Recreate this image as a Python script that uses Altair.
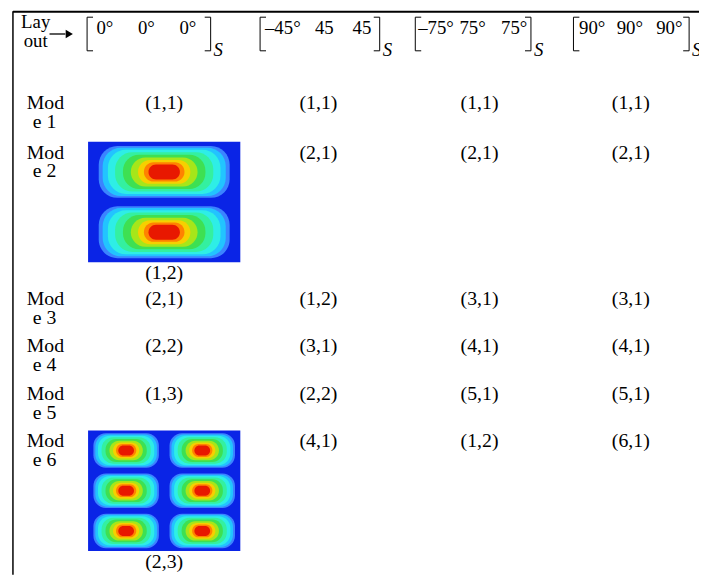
import altair as alt
import pandas as pd

# ---------------- data ----------------
header_label = ["Lay", "out"]
layout_terms = [["0°", "0°", "0°"],
                ["\u201345°", "45", "45"],
                ["\u201375°", "75°", "75°"],
                ["90°", "90°", "90°"]]
layout_sub = "S"
mode_names = ["Mode 1", "Mode 2", "Mode 3", "Mode 4", "Mode 5", "Mode 6"]
modes_0 = ["(1,1)", "(1,2)", "(2,1)", "(2,2)", "(1,3)", "(2,3)"]
modes_45 = ["(1,1)", "(2,1)", "(1,2)", "(3,1)", "(2,2)", "(4,1)"]
modes_75 = ["(1,1)", "(2,1)", "(3,1)", "(4,1)", "(5,1)", "(1,2)"]
modes_90 = ["(1,1)", "(2,1)", "(3,1)", "(4,1)", "(5,1)", "(6,1)"]
mode_cols = [modes_0, modes_45, modes_75, modes_90]
shape_cells = [(0, 1), (0, 5)]  # (layout column, mode row) shown as mode-shape pictures

# ---------------- layout / style (page pixels) ----------------
col_x = [166, 322, 485, 638]
row_base = [107, 157, 305, 353, 401, 449]
label_x, label2_x, line2_dy = 27, 33, 19
hdr_x, hdr_base = 36, [25, 44]
br_left = [88, 263, 420, 580]
br_right = [213, 384, 537, 697]
br_top, br_bot, serif = 14, 48, 6
term_x = [[106, 148, 190], [286, 328, 366], [441, 478, 520], [599, 637, 677]]
term_base = 31
sub_base = 53
img_w, img_h, img_dy, cap_dy = 154, 122, 17, 17
lobe_fx, lobe_fy = 0.86, 0.86
band_fx = [1.00, 0.94, 0.86, 0.75, 0.63, 0.51, 0.40, 0.31, 0.24]
band_fy = [1.00, 0.93, 0.85, 0.76, 0.66, 0.56, 0.46, 0.37, 0.29]
band_round = [0.72, 0.76, 0.82, 0.88, 0.94, 1.0, 1.0, 1.0, 1.0]
band_colors = ["#3b84ff", "#22c4ff", "#2eeee6", "#34f0a0", "#3ee052",
               "#a6e61a", "#f6d000", "#ff8200", "#e81800"]
bg_blue = "#0a24e6"
FONT = "Liberation Serif"

# ---------------- build tables ----------------
texts_c = []
for c, col in enumerate(mode_cols):
    for r, lab in enumerate(col):
        if (c, r) in shape_cells:
            top = row_base[r] - img_dy
            texts_c.append(dict(x=col_x[c], y=top + img_h + cap_dy, t=lab, s=20))
        else:
            texts_c.append(dict(x=col_x[c], y=row_base[r], t=lab, s=20))
for g, terms in enumerate(layout_terms):
    for k, t in enumerate(terms):
        texts_c.append(dict(x=term_x[g][k], y=term_base, t=t, s=19))
for k, t in enumerate(header_label):
    texts_c.append(dict(x=hdr_x, y=hdr_base[k], t=t, s=19))
df_tc = pd.DataFrame(texts_c)

texts_l = []
for r, name in enumerate(mode_names):
    texts_l.append(dict(x=label_x, y=row_base[r], t=name[:3]))
    texts_l.append(dict(x=label2_x, y=row_base[r] + line2_dy, t=name[3:]))
df_tl = pd.DataFrame(texts_l)

df_sub = pd.DataFrame([dict(x=br_right[g] + 3, y=sub_base, t=layout_sub) for g in range(4)])

rules = [dict(x=13, x2=707, y=8.5, y2=8.5, w=2), dict(x=13, x2=13, y=8, y2=578, w=1.5),
         dict(x=50, x2=66, y=31, y2=31, w=1.3)]
for g in range(4):
    L, R = br_left[g], br_right[g]
    rules += [dict(x=L, x2=L, y=br_top, y2=br_bot, w=1),
              dict(x=L, x2=L + serif, y=br_top, y2=br_top, w=1),
              dict(x=L, x2=L + serif, y=br_bot, y2=br_bot, w=1),
              dict(x=R, x2=R, y=br_top, y2=br_bot, w=1),
              dict(x=R - serif, x2=R, y=br_top, y2=br_top, w=1),
              dict(x=R - serif, x2=R, y=br_bot, y2=br_bot, w=1)]
df_rules = pd.DataFrame(rules)
df_arrow = pd.DataFrame([dict(x=70, y=31)])

boxes, bands = [], []
for (c, r) in shape_cells:
    lab = mode_cols[c][r]
    m, n = [int(v) for v in lab.strip("()").split(",")]
    x0 = col_x[c] - img_w / 2
    top = row_base[r] - img_dy
    boxes.append(dict(x=x0, x2=x0 + img_w, y=top, y2=top + img_h))
    cw, ch = img_w / m, img_h / n
    for i in range(m):
        for j in range(n):
            cx, cy = x0 + (i + 0.5) * cw, top + (j + 0.5) * ch
            lw, lh = cw * lobe_fx, ch * lobe_fy
            for k in range(len(band_fx)):
                fx, fy = band_fx[k], band_fy[k]
                bands.append(dict(x=cx - lw * fx / 2, x2=cx + lw * fx / 2,
                                  y=cy - lh * fy / 2, y2=cy + lh * fy / 2,
                                  col=band_colors[k], o=k,
                                  cr=band_round[k] * min(lw * fx, lh * fy) / 2))
df_boxes = pd.DataFrame(boxes)
df_bands = pd.DataFrame(bands)

# ---------------- chart ----------------
xs = alt.Scale(domain=[8, 707], nice=False, zero=False)
ys = alt.Scale(domain=[8, 578], nice=False, zero=False, reverse=True)
X = lambda f="x": alt.X(f + ":Q", scale=xs, axis=None)
Y = lambda f="y": alt.Y(f + ":Q", scale=ys, axis=None)

box_layer = alt.Chart(df_boxes).mark_rect(fill=bg_blue).encode(
    x=X(), x2="x2:Q", y=Y(), y2="y2:Q")
band_layer = alt.Chart(df_bands).mark_rect(cornerRadius=alt.ExprRef(expr="datum.cr")).encode(
    x=X(), x2="x2:Q", y=Y(), y2="y2:Q",
    fill=alt.Fill("col:N", scale=None), order=alt.Order("o:Q"))
rule_layer = alt.Chart(df_rules).mark_rule(color="black").encode(
    x=X(), x2="x2:Q", y=Y(), y2="y2:Q",
    strokeWidth=alt.StrokeWidth("w:Q", scale=None))
arrow_layer = alt.Chart(df_arrow).mark_point(shape="triangle-right", filled=True,
                                             color="black", size=70, opacity=1).encode(x=X(), y=Y())
text_c = alt.Chart(df_tc).mark_text(font=FONT, align="center", baseline="alphabetic",
                                    color="black").encode(
    x=X(), y=Y(), text="t:N", size=alt.Size("s:Q", scale=None))
text_l = alt.Chart(df_tl).mark_text(font=FONT, align="left", baseline="alphabetic",
                                    fontSize=20, color="black").encode(x=X(), y=Y(), text="t:N")
text_s = alt.Chart(df_sub).mark_text(font=FONT, fontStyle="italic", align="left",
                                     baseline="alphabetic", fontSize=19,
                                     color="black").encode(x=X(), y=Y(), text="t:N")

chart = alt.layer(box_layer, band_layer, rule_layer, arrow_layer, text_c, text_l, text_s).properties(
    width=699, height=570, padding=0,
    autosize=alt.AutoSizeParams(type="none")
).configure_view(stroke=None)

chart.save("out.html", embed_options={"renderer": "svg", "actions": False})
